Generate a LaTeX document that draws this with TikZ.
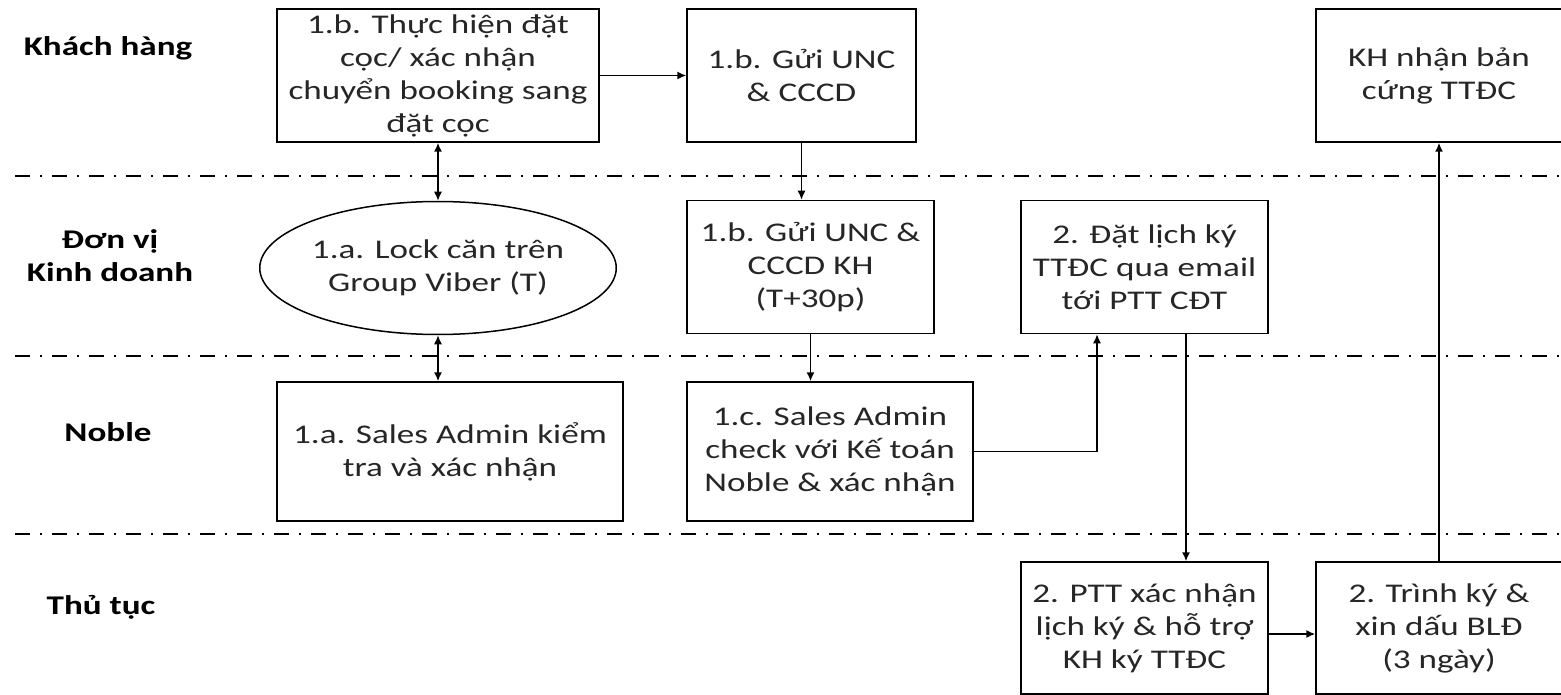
\documentclass[tikz,border=0pt]{standalone}
\usepackage{fontspec}
\setmainfont{Carlito}[FakeStretch=1.3]
\usetikzlibrary{shapes.geometric,arrows.meta,calc}

\begin{document}
\begin{tikzpicture}[x=1pt,y=-1pt,
	font=\fontsize{27}{33}\selectfont,
	buoc/.style={draw,line width=1.5pt,align=center,inner sep=0pt,minimum height=133pt,text=black!85},
	nhan/.style={font=\fontsize{27}{33}\selectfont\bfseries,align=center},
	muiten/.style={line width=1.5pt,-{Latex[length=9pt,width=8pt]}},
	haimui/.style={line width=1.5pt,{Latex[length=9pt,width=8pt]}-{Latex[length=9pt,width=8pt]}},
	lan/.style={line width=1.3pt,dash pattern=on 15pt off 10pt on 2pt off 10pt}]
	\useasboundingbox (0,0) rectangle (1561,695);
	% swim lanes
	\foreach \y in {176,356,534}
	\draw[lan] (15,\y) -- (1561,\y);
	\node[nhan] (kh) at (108,48) {Khách hàng};
	\node[nhan] (dv) at (110,256) {Đơn vị\\Kinh doanh};
	\node[nhan] (nb) at (108,432) {Noble};
	\node[nhan] (tt) at (101,607) {Thủ tục};
	%
	\node[buoc,minimum width=322pt] (b1) at (438,75.5) {1.b. Thực hiện đặt\\cọc/ xác nhận\\chuyển booking sang\\đặt cọc};
	\node[buoc,minimum width=229pt] (b2) at (801.5,75.5) {1.b. Gửi UNC\\\& CCCD};
	\node[buoc,minimum width=246pt] (b3) at (1439,75.5) {KH nhận bản\\cứng TTĐC};
	\node[buoc,ellipse,minimum width=322pt] (e1) at (438,268) {1.a. Lock căn trên\\Group Viber (T)};
	\node[buoc,minimum width=247pt] (b4) at (810.5,267) {1.b. Gửi UNC \&\\CCCD KH\\(T+30p)};
	\node[buoc,minimum width=247pt] (b5) at (1144.5,267) {2. Đặt lịch ký\\TTĐC qua email\\tới PTT CĐT};
	\node[buoc,minimum width=346pt,minimum height=139pt] (b6) at (450,451.5) {1.a. Sales Admin kiểm\\tra và xác nhận};
	\node[buoc,minimum width=286pt,minimum height=139pt] (b7) at (830,451.5) {1.c. Sales Admin\\check với Kế toán\\Noble \& xác nhận};
	\node[buoc,minimum width=247pt,minimum height=132pt] (b8) at (1144.5,628) {2. PTT xác nhận\\lịch ký \& hỗ trợ\\KH ký TTĐC};
	\node[buoc,minimum width=246pt,minimum height=132pt] (b9) at (1439,628) {2. Trình ký \&\\xin dấu BLĐ\\(3 ngày)};
	%
	\draw[muiten] (b1) -- (b2);
	\draw[haimui] (b1.south) -- (e1.north);
	\draw[haimui] (e1.south) -- (e1.south |- b6.north);
	\draw[muiten] (b2.south) -- (b2.south |- b4.north);
	\draw[muiten] (b4.south) -- (b4.south |- b7.north);
	\draw[muiten] (b7.east) -| ([xshift=-47.5pt]b5.south);
	\draw[muiten] ([xshift=41.5pt]b5.south) -- ([xshift=41.5pt]b8.north);
	\draw[muiten] ([yshift=-6pt]b8.east) -- ([yshift=-6pt]b9.west);
	\draw[muiten] (b9) -- (b3);
\end{tikzpicture}
\end{document}
